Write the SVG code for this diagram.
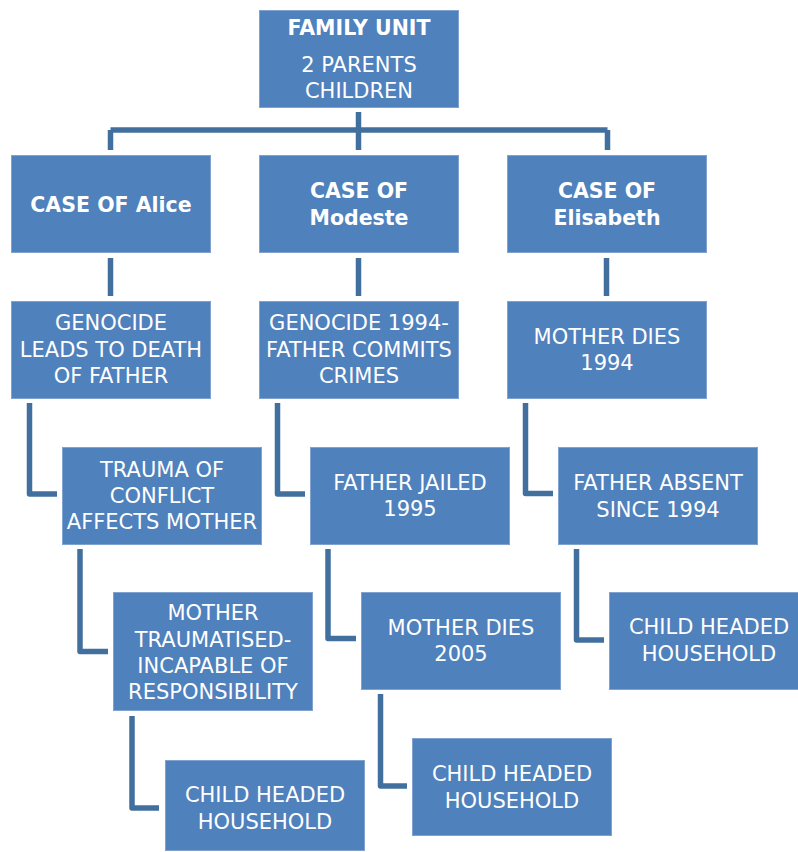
<svg xmlns="http://www.w3.org/2000/svg" width="798" height="852" viewBox="0 0 798 852">
  <style>
    .box { fill: #4F81BD; stroke: #7FA2D0; stroke-width: 1; }
    .t { fill: #FFFFFF; font-family: "DejaVu Sans", "Liberation Sans", sans-serif; font-size: 21px; text-anchor: middle; }
    .b { font-weight: bold; font-size: 20.5px; }
    .link { fill: none; stroke: #41709F; stroke-width: 5.5; stroke-linejoin: round; stroke-linecap: butt; }
  </style>
  <rect width="798" height="852" fill="#FFFFFF"/>

  <!-- connectors -->
  <g id="connectors">
    <path class="link" d="M358.5 112 V150 M110.5 130 H607.5 M110.5 130 V150 M607.5 130 V150"/>
    <path class="link" d="M110.5 258 V296 M358.5 258 V296 M606.5 258 V296"/>
    <path class="link" d="M29.5 403 V494 H57"/>
    <path class="link" d="M80 549 V651.5 H108"/>
    <path class="link" d="M132 716 V808 H159"/>
    <path class="link" d="M277.5 403 V494 H305"/>
    <path class="link" d="M328 549 V638.5 H356"/>
    <path class="link" d="M380.5 694 V786 H407"/>
    <path class="link" d="M525.5 403 V493.5 H553"/>
    <path class="link" d="M576.5 549 V640 H604"/>
  </g>

  <!-- top -->
  <g id="family-unit">
    <rect class="box" x="259.5" y="10.5" width="199" height="97"/>
    <text class="t b" x="359" y="35">FAMILY UNIT</text>
    <text class="t" x="359" y="72">2 PARENTS</text>
    <text class="t" x="359" y="98">CHILDREN</text>
  </g>

  <!-- Alice -->
  <g id="case-alice">
    <rect class="box" x="11.5" y="155.5" width="199" height="97"/>
    <text class="t b" x="111" y="212">CASE OF Alice</text>
  </g>
  <g id="alice-genocide">
    <rect class="box" x="11.5" y="301.5" width="199" height="97"/>
    <text class="t" x="111" y="330">GENOCIDE</text>
    <text class="t" x="111" y="357">LEADS TO DEATH</text>
    <text class="t" x="111" y="383">OF FATHER</text>
  </g>
  <g id="alice-trauma">
    <rect class="box" x="62.5" y="447.5" width="199" height="97"/>
    <text class="t" x="162" y="477">TRAUMA OF</text>
    <text class="t" x="162" y="503">CONFLICT</text>
    <text class="t" x="162" y="529">AFFECTS MOTHER</text>
  </g>
  <g id="alice-mother">
    <rect class="box" x="113.5" y="592.5" width="199" height="118"/>
    <text class="t" x="213" y="620">MOTHER</text>
    <text class="t" x="213" y="647">TRAUMATISED-</text>
    <text class="t" x="213" y="673">INCAPABLE OF</text>
    <text class="t" x="213" y="699">RESPONSIBILITY</text>
  </g>
  <g id="alice-child">
    <rect class="box" x="165.5" y="760.5" width="199" height="90"/>
    <text class="t" x="265" y="802">CHILD HEADED</text>
    <text class="t" x="265" y="829">HOUSEHOLD</text>
  </g>

  <!-- Modeste -->
  <g id="case-modeste">
    <rect class="box" x="259.5" y="155.5" width="199" height="97"/>
    <text class="t b" x="359" y="198">CASE OF</text>
    <text class="t b" x="359" y="225">Modeste</text>
  </g>
  <g id="modeste-genocide">
    <rect class="box" x="259.5" y="301.5" width="199" height="97"/>
    <text class="t" x="359" y="330">GENOCIDE 1994-</text>
    <text class="t" x="359" y="357">FATHER COMMITS</text>
    <text class="t" x="359" y="383">CRIMES</text>
  </g>
  <g id="modeste-jailed">
    <rect class="box" x="310.5" y="447.5" width="199" height="97"/>
    <text class="t" x="410" y="490">FATHER JAILED</text>
    <text class="t" x="410" y="516">1995</text>
  </g>
  <g id="modeste-mother">
    <rect class="box" x="361.5" y="592.5" width="199" height="97"/>
    <text class="t" x="461" y="635">MOTHER DIES</text>
    <text class="t" x="461" y="661">2005</text>
  </g>
  <g id="modeste-child">
    <rect class="box" x="412.5" y="738.5" width="199" height="97"/>
    <text class="t" x="512" y="781">CHILD HEADED</text>
    <text class="t" x="512" y="808">HOUSEHOLD</text>
  </g>

  <!-- Elisabeth -->
  <g id="case-elisabeth">
    <rect class="box" x="507.5" y="155.5" width="199" height="97"/>
    <text class="t b" x="607" y="198">CASE OF</text>
    <text class="t b" x="607" y="225">Elisabeth</text>
  </g>
  <g id="elisabeth-mother">
    <rect class="box" x="507.5" y="301.5" width="199" height="97"/>
    <text class="t" x="607" y="344">MOTHER DIES</text>
    <text class="t" x="607" y="370">1994</text>
  </g>
  <g id="elisabeth-father">
    <rect class="box" x="558.5" y="447.5" width="199" height="97"/>
    <text class="t" x="658" y="490">FATHER ABSENT</text>
    <text class="t" x="658" y="517">SINCE 1994</text>
  </g>
  <g id="elisabeth-child">
    <rect class="box" x="609.5" y="592.5" width="199" height="97"/>
    <text class="t" x="709" y="634">CHILD HEADED</text>
    <text class="t" x="709" y="661">HOUSEHOLD</text>
  </g>
</svg>
